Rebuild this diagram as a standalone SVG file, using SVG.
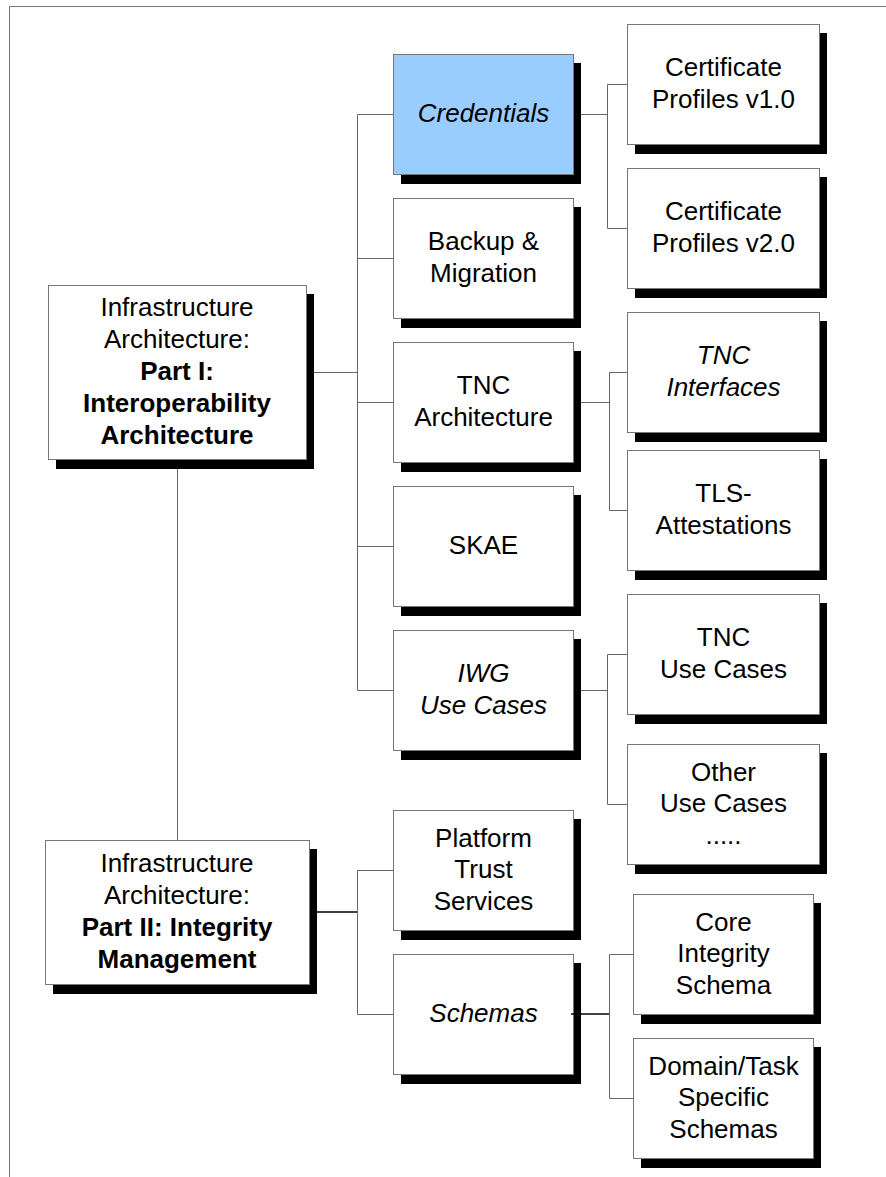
<svg xmlns="http://www.w3.org/2000/svg" width="886" height="1177" viewBox="0 0 886 1177">
<style>
.box{fill:#fff;stroke:#777;stroke-width:1}
.blue{fill:#99ccff}
.sh{fill:#000}
.t{font-family:"Liberation Sans",Arial,sans-serif;font-size:26px;text-anchor:middle;fill:#000}
.i{font-style:italic}
.b{font-weight:bold}
.c{stroke:#666;stroke-width:1;fill:none}
.k{stroke:#000;stroke-width:1.5;fill:none}
.frame{stroke:#777;stroke-width:1;fill:none}
</style>
<rect width="886" height="1177" fill="#fff"/>
<path class="frame" d="M9.5 1177 V6.5 H886"/>

<g id="part1">
<rect class="sh" x="56" y="294" width="258" height="175"/>
<rect class="box" x="48.5" y="285.5" width="258" height="174"/>
<text class="t" x="177" y="316">Infrastructure</text>
<text class="t" x="177" y="348">Architecture:</text>
<text class="t b" x="177" y="380">Part I:</text>
<text class="t b" x="177" y="412">Interoperability</text>
<text class="t b" x="177" y="444">Architecture</text>
</g>

<g id="part2">
<rect class="sh" x="53" y="849" width="264" height="145"/>
<rect class="box" x="45.5" y="840.5" width="264" height="144"/>
<text class="t" x="177" y="872">Infrastructure</text>
<text class="t" x="177" y="904">Architecture:</text>
<text class="t b" x="177" y="936">Part II: Integrity</text>
<text class="t b" x="177" y="968">Management</text>
</g>

<g id="credentials">
<rect class="sh" x="401" y="63" width="180" height="121"/>
<rect class="box blue" x="393.5" y="54.5" width="180" height="120"/>
<text class="t i" x="483.5" y="122">Credentials</text>
</g>

<g id="backup">
<rect class="sh" x="401" y="207" width="180" height="121"/>
<rect class="box" x="393.5" y="198.5" width="180" height="120"/>
<text class="t" x="483.5" y="250">Backup &amp;</text>
<text class="t" x="483.5" y="282">Migration</text>
</g>

<g id="tnc-arch">
<rect class="sh" x="401" y="351" width="180" height="121"/>
<rect class="box" x="393.5" y="342.5" width="180" height="120"/>
<text class="t" x="483.5" y="394">TNC</text>
<text class="t" x="483.5" y="426">Architecture</text>
</g>

<g id="skae">
<rect class="sh" x="401" y="495" width="180" height="121"/>
<rect class="box" x="393.5" y="486.5" width="180" height="120"/>
<text class="t" x="483.5" y="554">SKAE</text>
</g>

<g id="iwg">
<rect class="sh" x="401" y="639" width="180" height="121"/>
<rect class="box" x="393.5" y="630.5" width="180" height="120"/>
<text class="t i" x="483.5" y="682">IWG</text>
<text class="t i" x="483.5" y="714">Use Cases</text>
</g>

<g id="platform">
<rect class="sh" x="401" y="819" width="180" height="121"/>
<rect class="box" x="393.5" y="810.5" width="180" height="120"/>
<text class="t" x="483.5" y="846.5">Platform</text>
<text class="t" x="483.5" y="878">Trust</text>
<text class="t" x="483.5" y="909.5">Services</text>
</g>

<g id="schemas">
<rect class="sh" x="401" y="963" width="180" height="121"/>
<rect class="box" x="393.5" y="954.5" width="180" height="120"/>
<text class="t i" x="483.5" y="1022">Schemas</text>
</g>

<g id="cert1">
<rect class="sh" x="635" y="33" width="192" height="121"/>
<rect class="box" x="627.5" y="24.5" width="192" height="120"/>
<text class="t" x="723.5" y="76">Certificate</text>
<text class="t" x="723.5" y="108">Profiles v1.0</text>
</g>

<g id="cert2">
<rect class="sh" x="635" y="177" width="192" height="121"/>
<rect class="box" x="627.5" y="168.5" width="192" height="120"/>
<text class="t" x="723.5" y="220">Certificate</text>
<text class="t" x="723.5" y="252">Profiles v2.0</text>
</g>

<g id="tnc-interfaces">
<rect class="sh" x="635" y="321" width="192" height="121"/>
<rect class="box" x="627.5" y="312.5" width="192" height="120"/>
<text class="t i" x="723.5" y="364">TNC</text>
<text class="t i" x="723.5" y="396">Interfaces</text>
</g>

<g id="tls">
<rect class="sh" x="635" y="459" width="192" height="121"/>
<rect class="box" x="627.5" y="450.5" width="192" height="120"/>
<text class="t" x="723.5" y="502">TLS-</text>
<text class="t" x="723.5" y="534">Attestations</text>
</g>

<g id="tnc-usecases">
<rect class="sh" x="635" y="603" width="192" height="121"/>
<rect class="box" x="627.5" y="594.5" width="192" height="120"/>
<text class="t" x="723.5" y="646">TNC</text>
<text class="t" x="723.5" y="678">Use Cases</text>
</g>

<g id="other-usecases">
<rect class="sh" x="635" y="753" width="192" height="121"/>
<rect class="box" x="627.5" y="744.5" width="192" height="120"/>
<text class="t" x="723.5" y="780.5">Other</text>
<text class="t" x="723.5" y="812">Use Cases</text>
<text class="t" x="723.5" y="843.5">.....</text>
</g>

<g id="core-schema">
<rect class="sh" x="641" y="903" width="180" height="121"/>
<rect class="box" x="633.5" y="894.5" width="180" height="120"/>
<text class="t" x="723.5" y="930.5">Core</text>
<text class="t" x="723.5" y="962">Integrity</text>
<text class="t" x="723.5" y="993.5">Schema</text>
</g>

<g id="domain-schemas">
<rect class="sh" x="641" y="1047" width="180" height="121"/>
<rect class="box" x="633.5" y="1038.5" width="180" height="120"/>
<text class="t" x="723.5" y="1074.5">Domain/Task</text>
<text class="t" x="723.5" y="1106">Specific</text>
<text class="t" x="723.5" y="1137.5">Schemas</text>
</g>

<g id="connectors">
<path class="c" d="M314 372.5 H357.5 M357.5 114.5 V690.5 M357.5 114.5 H393 M357.5 258.5 H393 M357.5 402.5 H393 M357.5 546.5 H393 M357.5 690.5 H393"/>
<path class="c" d="M177.5 469 V840"/>
<path class="c" d="M581 114.5 H607.5 M607.5 84.5 V228.5 M607.5 84.5 H627 M607.5 228.5 H627"/>
<path class="c" d="M581 402.5 H609.5 M609.5 372.5 V510.5 M609.5 372.5 H627 M609.5 510.5 H627"/>
<path class="c" d="M581 690.5 H607.5 M607.5 654.5 V804.5 M607.5 654.5 H627 M607.5 804.5 H627"/>
<path class="k" d="M317 912 H357.5"/>
<path class="c" d="M357.5 870.5 V1014.5 M357.5 870.5 H393 M357.5 1014.5 H393"/>
<path class="k" d="M571 1014 H609.5"/>
<path class="c" d="M609.5 954.5 V1098.5 M609.5 954.5 H633 M609.5 1098.5 H633"/>
</g>
</svg>
